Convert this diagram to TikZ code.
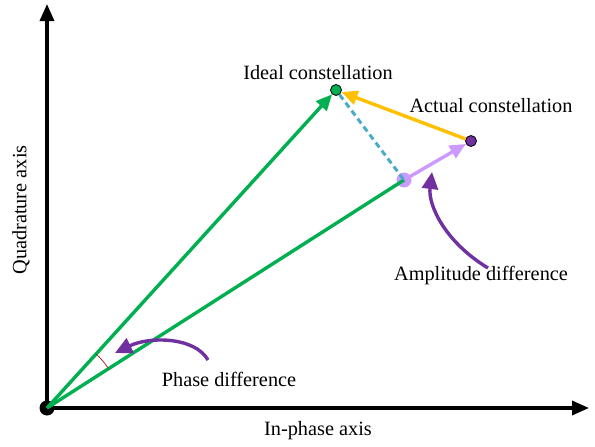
\documentclass[tikz,border=0pt]{standalone}
\usepackage{fontspec}
\setmainfont{Liberation Serif}
\usetikzlibrary{arrows.meta}

\definecolor{vecgreen}{HTML}{00B050}
\definecolor{errorange}{HTML}{FFC000}
\definecolor{notepurple}{HTML}{7030A0}
\definecolor{lavender}{HTML}{CC99FF}
\definecolor{dashblue}{HTML}{4BACC6}
\definecolor{arcred}{HTML}{A0302D}

\begin{document}
\begin{tikzpicture}[x=1pt,y=-1pt,
	font=\fontsize{20.3}{24}\selectfont,
	axis/.style={line width=3.4pt,-{Triangle[length=17pt,width=14pt]}},
	vec/.style={line width=3.4pt,-{Triangle[length=16pt,width=14pt]}},
	note/.style={line width=3.4pt,notepurple,-{Triangle[length=17pt,width=16pt]}},
	dot/.style={circle,draw=black,line width=0.8pt,inner sep=0pt,minimum size=11pt}]
	\useasboundingbox (0,0) rectangle (595,447);
	% axes
	\node[circle,fill=black,inner sep=0pt,minimum size=15pt] (O) at (47,408) {};
	\coordinate (xend) at (589,408);
	\coordinate (yend) at (47,4);
	\draw[axis] (O.center) -- (xend);
	\draw[axis] (O.center) -- (yend);
	\node (xlabel) at (318,431) {In-phase axis};
	\node[rotate=90] (ylabel) at (21,210) {Quadrature axis};
	% constellation points
	\node[dot,fill=vecgreen] (ideal) at (336,90) {};
	\node[dot,fill=notepurple] (actual) at (471,141) {};
	\node[circle,fill=lavender,inner sep=0pt,minimum size=15pt] (tip) at (404,180) {};
	\draw[vec,lavender] (tip.center) -- (actual);
	\draw[line width=3.4pt,vecgreen] (O.center) -- (tip.center);
	\draw[vec,vecgreen] (O.center) -- (ideal);
	\draw[vec,errorange] (actual) -- (ideal);
	\draw[line width=3pt,dashblue,dash pattern=on 6pt off 4pt] (ideal) -- (tip.center);
	\node (ideallabel) at (318,73) {Ideal constellation};
	\node (actuallabel) at (491,106) {Actual constellation};
	% phase difference
	\draw[arcred,line width=0.8pt] (O.center) ++(-47.7:73) arc[start angle=-47.7,end angle=-32.6,radius=73];
	\draw[note] (208,360) .. controls (195,337) and (150,336) .. (115,353);
	\node (phaselabel) at (229,379) {Phase difference};
	% amplitude difference
	\draw[note] (488,268) .. controls (445,242) and (428,205) .. (432,172);
	\node (amplabel) at (481,276) {Amplitude difference};
\end{tikzpicture}
\end{document}
